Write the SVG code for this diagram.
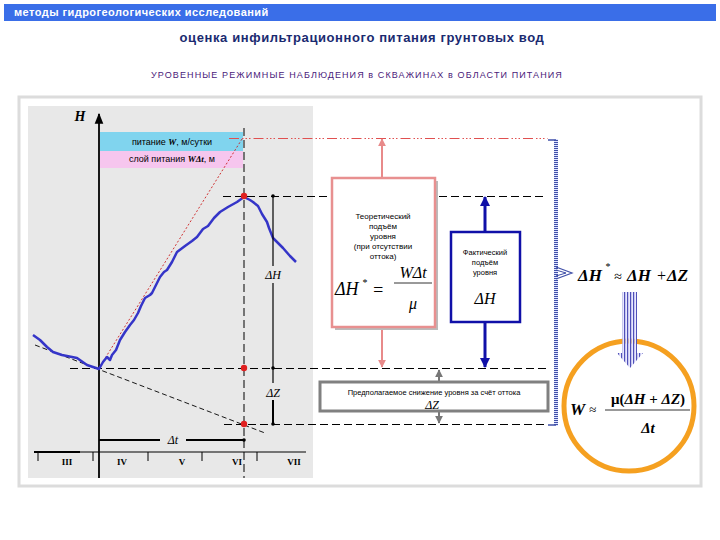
<svg xmlns="http://www.w3.org/2000/svg" width="720" height="540" viewBox="0 0 720 540">
<style>
.sans{font-family:"Liberation Sans",Arial,sans-serif}
.ser{font-family:"Liberation Serif","Times New Roman",serif;font-style:italic}
.dash{stroke:#000;stroke-width:1;stroke-dasharray:8,4;fill:none}
.sm{font-size:8px;fill:#000;text-anchor:middle}
.roman{font-family:"Liberation Serif","Times New Roman",serif;font-weight:bold;font-size:9px;text-anchor:middle}
</style>
<defs>
<marker id="aPink" viewBox="0 0 10 10" refX="9" refY="5" markerWidth="4" markerHeight="4" orient="auto"><path d="M0,0L10,5L0,10z" fill="#e88a8a"/></marker>
<marker id="aBlue" viewBox="0 0 10 10" refX="9" refY="5" markerWidth="3.5" markerHeight="3.5" orient="auto"><path d="M0,0L10,5L0,10z" fill="#1010a8"/></marker>
<marker id="aGray" viewBox="0 0 10 10" refX="9" refY="5" markerWidth="4" markerHeight="4" orient="auto"><path d="M0,0L10,5L0,10z" fill="#777"/></marker>
<marker id="aBlack" viewBox="0 0 10 10" refX="9" refY="5" markerWidth="6" markerHeight="6" orient="auto"><path d="M0,1L10,5L0,9z" fill="#000"/></marker>
<pattern id="hstripe" width="4" height="2" patternUnits="userSpaceOnUse"><rect width="4" height="1" fill="#4050a8"/><rect y="1" width="4" height="1" fill="#dfe4ff"/></pattern>
<pattern id="vstripe" width="3" height="4" patternUnits="userSpaceOnUse"><rect width="1.5" height="4" fill="#5050b8"/><rect x="1.5" width="1.5" height="4" fill="#e8e8ff"/></pattern>
</defs>

<rect width="720" height="540" fill="#fff"/>

<g id="header">
<rect x="4" y="4" width="712" height="17" fill="#3a6ee8"/>
<text x="14" y="16" class="sans" font-size="11" font-weight="bold" fill="#fff" letter-spacing="0.45">методы  гидрогеологических исследований</text>
<text x="362" y="42" class="sans" font-size="13" font-weight="bold" fill="#1a2a70" text-anchor="middle" letter-spacing="0.6">оценка инфильтрационного питания грунтовых вод</text>
<text x="357" y="78" class="sans" font-size="9" fill="#4a1a7a" text-anchor="middle" letter-spacing="1.1">УРОВЕННЫЕ  РЕЖИМНЫЕ  НАБЛЮДЕНИЯ  в  СКВАЖИНАХ  в  ОБЛАСТИ  ПИТАНИЯ</text>
</g>

<g id="frame">
<rect x="19" y="97" width="682" height="389" fill="none" stroke="#dcdcdc" stroke-width="3"/>
<rect x="28" y="106" width="285" height="372" fill="#e8e8e8"/>
</g>

<g id="bands">
<rect x="100" y="132" width="143" height="19" fill="#80d4ee"/>
<rect x="100" y="151" width="143" height="17" fill="#f6c6ee"/>
<text x="172" y="145" class="sans" font-size="9" text-anchor="middle">питание  <tspan class="ser" font-weight="bold">W</tspan>, м/сутки</text>
<text x="172" y="162" class="sans" font-size="9" text-anchor="middle">слой питания  <tspan class="ser" font-weight="bold">W</tspan><tspan class="ser" font-weight="bold">Δt</tspan>, м</text>
</g>

<g id="connectors">
<line x1="99" y1="478" x2="99" y2="114" stroke="#000" stroke-width="1.8" marker-end="url(#aBlack)"/>
<line x1="244" y1="128" x2="244" y2="478" class="dash"/>
<line x1="229" y1="138.5" x2="548" y2="138.5" stroke="#e05050" stroke-width="1" stroke-dasharray="10,3,1.5,2,1.5,2,1.5,3"/>
<line x1="223" y1="196.5" x2="546" y2="196.5" class="dash"/>
<line x1="70" y1="368.5" x2="548" y2="368.5" class="dash"/>
<line x1="224" y1="424.5" x2="548" y2="424.5" class="dash"/>
<line x1="35" y1="345" x2="265" y2="433" stroke="#000" stroke-width="0.9" stroke-dasharray="5,3"/>
<line x1="99" y1="368" x2="242" y2="139" stroke="#cc2020" stroke-width="0.9" stroke-dasharray="2,2"/>
<polyline fill="none" stroke="#3535c8" stroke-width="2.5" stroke-linejoin="round" points="33,335 40,340 47,347 53,352 62,355 77,358 87,365 99,369 103,362 107,357 110,360 112,355 116,350 120,340 125,332 130,325 134,320 138,313 141,306 145,298 150,295 152,293 156,285 160,277 164,272 167,270 172,262 177,252 185,246 192,241 197,237 203,229 208,226 214,218 220,212 228,207 237,202 244,197 250,200 253,202 258,206 262,214 267,222 269,228 273,238 278,243 283,248 290,256 296,262"/>
<line x1="273" y1="196" x2="273" y2="266" stroke="#000" stroke-width="1.2"/>
<line x1="273" y1="283" x2="273" y2="383" stroke="#000" stroke-width="1.2"/>
<line x1="273" y1="400" x2="273" y2="424" stroke="#000" stroke-width="2"/>
<line x1="99" y1="440" x2="160" y2="440" stroke="#000" stroke-width="2"/>
<line x1="186" y1="440" x2="244" y2="440" stroke="#000" stroke-width="2"/>
<line x1="34" y1="452" x2="306" y2="452" stroke="#000" stroke-width="1"/>
<line x1="34" y1="452" x2="80" y2="452" stroke="#000" stroke-width="2"/>
<g stroke="#000" stroke-width="1">
<line x1="38" y1="452" x2="38" y2="461"/>
<line x1="93" y1="452" x2="93" y2="461"/>
<line x1="148" y1="452" x2="148" y2="461"/>
<line x1="202" y1="452" x2="202" y2="461"/>
<line x1="257" y1="452" x2="257" y2="461"/>
</g>
<line x1="382" y1="178" x2="382" y2="139" stroke="#e88a8a" stroke-width="2" marker-end="url(#aPink)"/>
<line x1="382" y1="328" x2="382" y2="367" stroke="#e88a8a" stroke-width="2" marker-end="url(#aPink)"/>
<line x1="485" y1="232" x2="485" y2="197" stroke="#1010a8" stroke-width="3" marker-end="url(#aBlue)"/>
<line x1="485" y1="322" x2="485" y2="367" stroke="#1010a8" stroke-width="3" marker-end="url(#aBlue)"/>
<line x1="439" y1="381" x2="439" y2="370" stroke="#777" stroke-width="2" marker-end="url(#aGray)"/>
<line x1="439" y1="412" x2="439" y2="423" stroke="#777" stroke-width="2" marker-end="url(#aGray)"/>
</g>

<g id="points">
<circle cx="244" cy="196" r="3.2" fill="#e02020"/>
<circle cx="244" cy="368" r="3.2" fill="#e02020"/>
<circle cx="244" cy="424" r="3.2" fill="#e02020"/>
<circle cx="273" cy="196" r="1.8" fill="#000"/>
<circle cx="273" cy="368" r="1.8" fill="#000"/>
<circle cx="273" cy="424" r="1.8" fill="#000"/>
<circle cx="244" cy="440" r="1.8" fill="#000"/>
</g>

<g id="axis-labels">
<text x="80" y="121" class="ser" font-weight="bold" font-size="14" text-anchor="middle">H</text>
<text x="273" y="279" class="ser" font-size="12" text-anchor="middle">ΔH</text>
<text x="273" y="397" class="ser" font-size="12" text-anchor="middle">ΔZ</text>
<text x="173" y="444" class="ser" font-size="12" text-anchor="middle">Δt</text>
<text x="67" y="465" class="roman">III</text>
<text x="122" y="465" class="roman">IV</text>
<text x="182" y="465" class="roman">V</text>
<text x="237" y="465" class="roman">VI</text>
<text x="294" y="465" class="roman">VII</text>
</g>

<g id="theory-box">
<rect x="335" y="181" width="103" height="149" fill="#bbb"/>
<rect x="332" y="178" width="103" height="149" fill="#fff" stroke="#e89090" stroke-width="2.5"/>
<text class="sans sm"><tspan x="383" y="219">Теоретический</tspan><tspan x="383" y="229">подъём</tspan><tspan x="383" y="239">уровня</tspan><tspan x="383" y="249">(при отсутствии</tspan><tspan x="383" y="259">оттока)</tspan></text>
<text x="335" y="295" class="ser" font-size="18">ΔH</text>
<text x="362" y="286" class="ser" font-size="10">*</text>
<text x="372" y="296" class="ser" font-size="18" font-style="normal">=</text>
<text x="413" y="278" class="ser" font-size="16" text-anchor="middle">WΔt</text>
<line x1="394" y1="283" x2="432" y2="283" stroke="#000" stroke-width="0.8"/>
<text x="413" y="309" class="ser" font-size="16" font-style="normal" text-anchor="middle">μ</text>
</g>

<g id="fact-box">
<rect x="451" y="232" width="69" height="90" fill="#fff" stroke="#1010a8" stroke-width="2.5"/>
<text class="sans" font-size="7.5" text-anchor="middle"><tspan x="485" y="255">Фактический</tspan><tspan x="485" y="265">подъём</tspan><tspan x="485" y="275">уровня</tspan></text>
<text x="485" y="304" class="ser" font-size="16" text-anchor="middle">ΔH</text>
</g>

<g id="outflow-box">
<rect x="320" y="382" width="228" height="29" fill="#fff" stroke="#808080" stroke-width="3"/>
<text x="434" y="395" class="sans" font-size="7.5" text-anchor="middle">Предполагаемое снижение уровня за счёт оттока</text>
<text x="432" y="409" class="ser" font-size="12" text-anchor="middle" font-style="normal">ΔZ</text>
</g>

<g id="bracket">
<rect x="554" y="139" width="4" height="287" fill="url(#hstripe)"/>
<line x1="548" y1="140" x2="556" y2="140" stroke="#4050a8" stroke-width="1.5"/>
<line x1="548" y1="425" x2="556" y2="425" stroke="#4050a8" stroke-width="1.5"/>
<path d="M556,267L572,273L556,279" fill="none" stroke="#4050a8" stroke-width="1.2"/>
<path d="M556,270L566,273L556,276" fill="none" stroke="#4050a8" stroke-width="1"/>
</g>

<g id="equation1">
<text x="578" y="281" class="ser" font-weight="bold" font-size="17">ΔH</text>
<text x="605" y="270" class="ser" font-size="10">*</text>
<text x="614" y="281" class="ser" font-size="14" font-style="normal">≈</text>
<text x="627" y="281" class="ser" font-weight="bold" font-size="17">ΔH</text>
<text x="656" y="281" class="ser" font-size="16" font-style="normal">+</text>
<text x="667" y="281" class="ser" font-weight="bold" font-size="17">ΔZ</text>
</g>

<g id="result">
<circle cx="629" cy="406" r="65" fill="#fff" stroke="#f5a020" stroke-width="5"/>
<text x="570" y="415" class="ser" font-weight="bold" font-size="17">W</text>
<text x="589" y="414" class="ser" font-size="13" font-style="normal">≈</text>
<text x="648" y="404" class="ser" font-weight="bold" font-size="15" text-anchor="middle"><tspan font-style="normal">μ(</tspan>ΔH <tspan font-style="normal">+</tspan> ΔZ<tspan font-style="normal">)</tspan></text>
<line x1="605" y1="410" x2="690" y2="410" stroke="#000" stroke-width="0.8"/>
<text x="648" y="433" class="ser" font-weight="bold" font-size="15" text-anchor="middle">Δt</text>
</g>

<g id="down-arrow">
<rect x="622" y="292" width="15" height="61" fill="url(#vstripe)"/>
<polygon points="617,353 643,353 630,368" fill="url(#vstripe)"/>
</g>
</svg>
